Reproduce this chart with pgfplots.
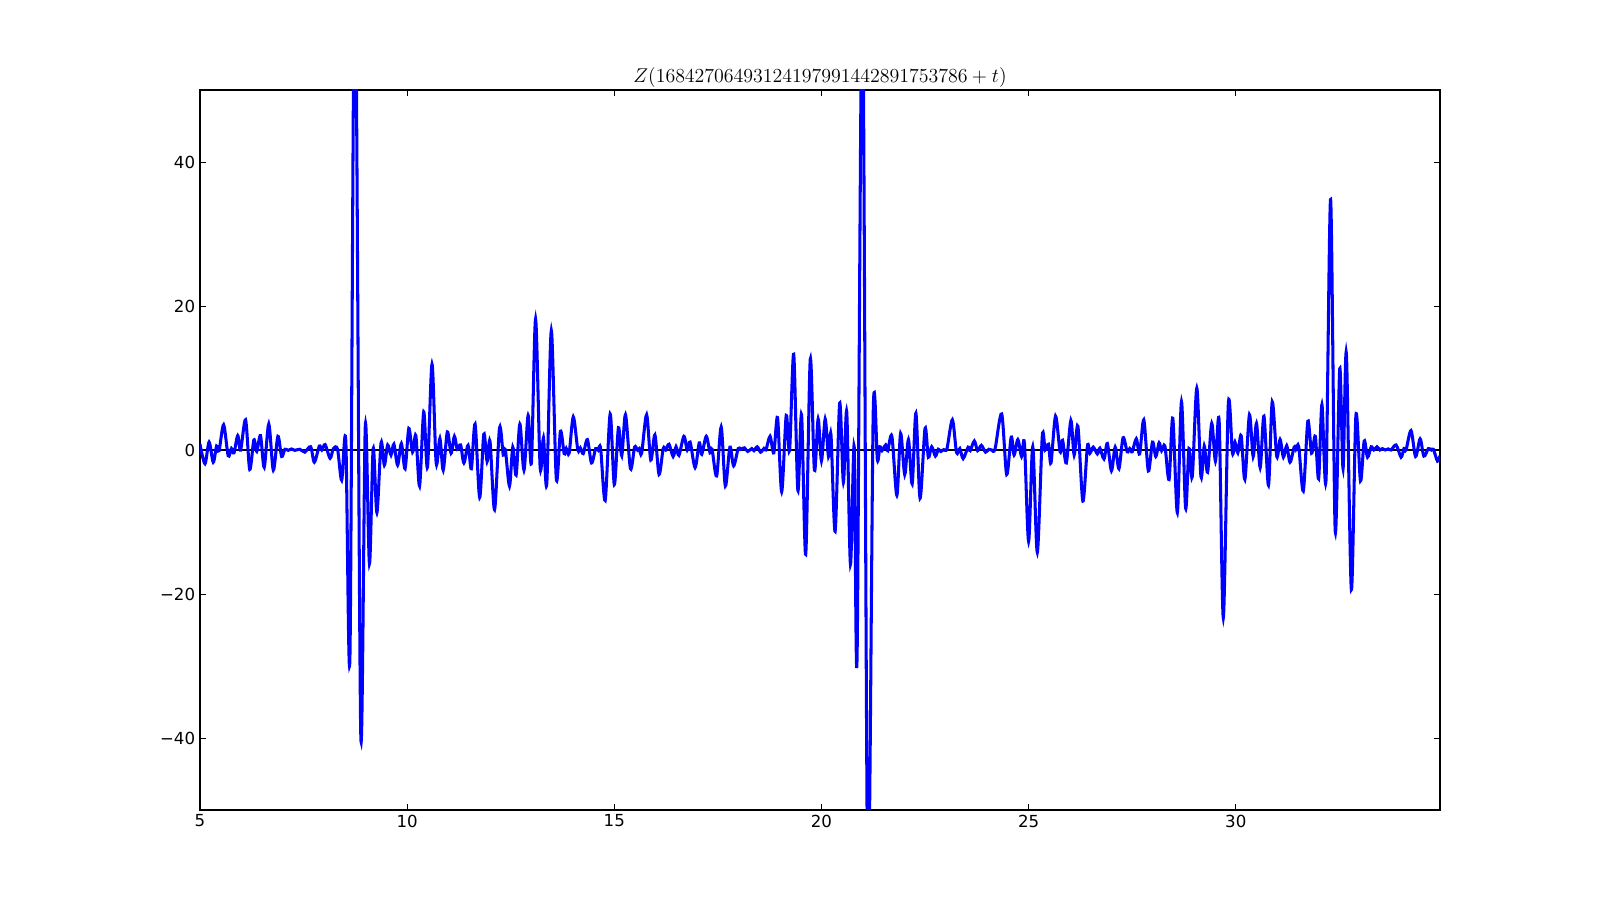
\documentclass[border=0pt]{standalone}
\usepackage{fontspec}
\setmainfont{DejaVu Sans}
\usepackage{pgfplots}
\pgfplotsset{compat=1.18}
\begin{document}
\begin{tikzpicture}[x=1in,y=1in]
\path[use as bounding box] (0,0) rectangle (16,9);
\begin{axis}[
  at={(2in,0.9in)}, anchor=south west,
  width=12.4in, height=7.2in, scale only axis,
  xmin=5, xmax=34.93, ymin=-50, ymax=50,
  xtick={5,10,15,20,25,30},
  xticklabels={5,10,15,20,25,30},
  ytick={-40,-20,0,20,40},
  yticklabels={−40,−20,0,20,40},
  tick align=inside, tick pos=both,
  major tick length=4pt,
  tick style={black, line width=0.6pt},
  axis line style={line width=0.8pt},
  ticklabel style={font=\fontsize{12}{14}\selectfont},
  title={$Z(16842706493124197991442891753786+t)$},
  title style={font=\fontsize{14.4}{17}\selectfont, at={(0.5,1)}, anchor=base, yshift=-0.5pt},
]
\addplot[black, line width=1pt] coordinates {(5,0) (34.93,0)};
\addplot[blue, line width=2.2pt, smooth, tension=0.5] table {
x y
5.00 0.8
5.12 -1.9
5.22 1.1
5.32 -1.7
5.40 0.55
5.46 -0.1
5.57 3.5
5.68 -0.8
5.76 0.2
5.82 -0.4
5.91 2.0
5.98 0.0
6.10 4.2
6.20 -2.7
6.30 1.4
6.37 -0.2
6.46 2.0
6.55 -2.4
6.66 3.6
6.77 -2.8
6.88 1.9
6.97 -0.9
7.05 0.1
7.13 -0.05
7.21 0.15
7.29 -0.05
7.41 0.1
7.53 -0.3
7.67 0.45
7.76 -1.7
7.88 0.55
7.94 0.0
8.02 0.75
8.14 -1.15
8.22 0.2
8.32 0.1
8.42 -4.2
8.52 1.2
8.62 -28.4
8.74 70
8.88 -39.4
8.99 3.4
9.09 -15.8
9.18 0.2
9.27 -8.7
9.37 1.0
9.45 -2.1
9.53 0.7
9.61 -0.7
9.68 0.8
9.77 -2.1
9.86 0.9
9.95 -2.6
10.04 3.0
10.13 -0.3
10.21 2.0
10.30 -5.0
10.40 5.3
10.49 -2.4
10.60 11.9
10.70 -1.8
10.79 1.6
10.87 -2.8
10.97 2.5
11.06 -0.45
11.14 1.9
11.21 0.1
11.29 0.7
11.37 -1.8
11.47 0.65
11.55 -2.6
11.64 3.6
11.75 -6.6
11.85 2.2
11.93 -1.6
12.00 1.2
12.11 -8.3
12.23 3.1
12.32 -0.7
12.37 0.05
12.47 -5.0
12.55 0.4
12.63 -3.5
12.72 3.6
12.82 -2.8
12.92 4.8
13.00 -1.7
13.10 18.2
13.21 -2.4
13.29 1.7
13.37 -4.7
13.48 16.6
13.60 -4.0
13.70 2.6
13.79 -0.5
13.84 0.2
13.91 -0.45
14.01 4.6
14.12 0.0
14.18 0.3
14.25 -0.5
14.35 1.45
14.45 -1.8
14.55 0.2
14.61 0.0
14.67 0.2
14.78 -7.0
14.90 5.0
15.00 -4.8
15.10 3.1
15.18 -0.8
15.27 4.9
15.39 -2.6
15.49 0.4
15.56 0.0
15.60 0.2
15.66 -0.45
15.78 4.9
15.88 -1.4
15.98 2.1
16.08 -3.4
16.18 0.2
16.24 0.0
16.32 0.8
16.42 -0.9
16.49 0.45
16.56 -0.75
16.68 1.9
16.76 0.0
16.83 1.1
16.95 -2.45
17.05 1.0
17.11 -0.6
17.22 1.9
17.31 -0.4
17.36 0.1
17.47 -3.6
17.58 3.2
17.68 -5.0
17.79 0.4
17.88 -2.2
17.99 0.2
18.05 0.1
18.14 0.3
18.22 -0.2
18.32 0.2
18.37 -0.1
18.45 0.45
18.53 -0.3
18.61 0.2
18.66 0.0
18.76 1.9
18.85 -0.4
18.94 4.5
19.04 -5.8
19.15 4.8
19.23 -0.1
19.33 13.3
19.43 -5.6
19.52 4.9
19.62 -14.5
19.73 12.6
19.83 -2.8
19.92 4.3
20.00 -1.5
20.09 4.3
20.17 -0.9
20.23 2.1
20.33 -11.3
20.44 6.5
20.53 -4.5
20.61 5.3
20.70 -15.9
20.79 0.5
20.86 -28.7
20.99 65
21.12 -62
21.25 5.4
21.35 -1.4
21.41 0.45
21.46 -0.1
21.55 0.7
21.60 -0.1
21.70 1.9
21.82 -6.3
21.91 2.3
22.01 -3.4
22.10 1.45
22.19 -4.7
22.28 5.1
22.38 -6.7
22.50 3.0
22.58 -1.0
22.66 0.45
22.75 -0.85
22.82 0.1
22.88 -0.2
22.95 0.05
23.03 0.2
23.16 4.2
23.26 -0.35
23.34 0.2
23.42 -1.2
23.54 0.4
23.59 -0.1
23.69 1.25
23.77 -0.1
23.86 0.65
23.96 -0.3
24.04 0.1
24.11 0.0
24.19 0.15
24.35 5.0
24.47 -3.4
24.58 1.8
24.65 -0.7
24.74 1.45
24.83 -0.9
24.90 0.9
25.00 -12.7
25.10 0.45
25.21 -14.2
25.33 1.9
25.40 0.0
25.48 0.8
25.54 -1.8
25.65 4.7
25.76 -0.25
25.82 1.35
25.91 -1.8
26.02 4.1
26.10 -0.7
26.19 3.3
26.31 -7.1
26.42 0.55
26.48 -0.45
26.56 0.4
26.66 -0.55
26.72 0.25
26.82 -1.25
26.90 0.9
27.00 -2.9
27.09 0.4
27.18 -2.6
27.28 1.7
27.38 -0.25
27.44 0.2
27.50 -0.25
27.60 1.55
27.68 -0.55
27.78 4.2
27.89 -2.9
27.99 1.1
28.07 -0.9
28.15 1.0
28.21 -0.1
28.29 0.55
28.39 -4.1
28.48 4.4
28.59 -8.7
28.69 6.7
28.79 -8.1
28.87 0.2
28.95 -3.7
29.06 8.6
29.16 -3.7
29.24 0.55
29.32 -3.1
29.42 3.7
29.51 -1.55
29.60 3.9
29.70 -23.3
29.82 6.4
29.92 -0.45
29.98 1.1
30.05 -0.4
30.13 2.0
30.22 -4.1
30.33 4.9
30.42 -0.9
30.50 3.7
30.59 -2.45
30.68 4.7
30.79 -4.9
30.88 6.7
30.99 -0.9
31.07 1.45
31.15 -1.0
31.23 0.6
31.31 -1.7
31.41 0.4
31.45 0.1
31.52 0.45
31.63 -5.7
31.74 4.0
31.83 -0.45
31.92 1.9
32.00 -4.0
32.08 6.3
32.18 -4.0
32.29 34.8
32.40 -11.2
32.51 11.3
32.59 -2.6
32.67 13.4
32.79 -19.4
32.90 4.8
33.01 -4.3
33.10 1.25
33.18 -1.0
33.27 0.45
33.33 0.0
33.41 0.45
33.48 0.0
33.54 0.2
33.61 0.0
33.68 0.15
33.75 0.0
33.87 0.7
33.99 -1.0
34.06 0.2
34.11 0.0
34.23 2.7
34.34 -0.9
34.45 1.55
34.54 -0.85
34.65 0.2
34.72 0.0
34.77 0.1
34.87 -1.55
34.93 -0.8
};
\end{axis}
\end{tikzpicture}
\end{document}
